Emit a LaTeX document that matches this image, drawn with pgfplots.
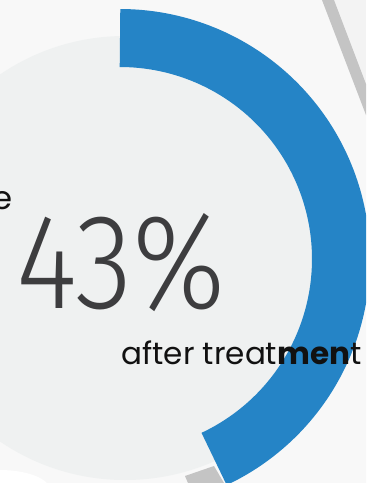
\documentclass[border=0pt]{standalone}
\usepackage{pgfplots}
\pgfplotsset{compat=1.18}
\usepackage{fontspec}
\setmainfont{Poppins}
\newfontfamily\numfont{Fira Sans Light}
\definecolor{arcblue}{RGB}{37,132,198}
\definecolor{bgout}{RGB}{243,243,243}
\definecolor{bgwhite}{RGB}{248,248,248}
\definecolor{bgcirc}{RGB}{239,241,241}
\definecolor{band}{RGB}{196,196,196}
\definecolor{numgray}{RGB}{61,61,63}
\definecolor{txt}{RGB}{17,17,17}
% share shown by the ring (percent)
\def\share{43}
\begin{document}
\begin{tikzpicture}
\begin{axis}[
  scale only axis, width=183pt, height=241.5pt,
  xmin=0, xmax=366, ymin=0, ymax=483, y dir=reverse,
  axis lines=none, ticks=none, clip=true,
]
% background
\fill[bgout] (axis cs:0,0) rectangle (axis cs:366,483);
\fill[bgwhite] (axis cs:0,0) -- (axis cs:322,0) -- (axis cs:366,115) -- (axis cs:366,483) -- (axis cs:0,483) -- cycle;
\fill[band] (axis cs:322,0) -- (axis cs:334,0) -- (axis cs:366,84) -- (axis cs:366,115) -- cycle;
\fill[band] (axis cs:185,476) -- (axis cs:214,466) -- (axis cs:224,483) -- (axis cs:188,483) -- cycle;
\fill[white] (axis cs:0,490) ellipse[x radius=25pt, y radius=10pt];
\fill[bgcirc] (axis cs:125,258) circle[radius=111pt];
% ring segment for the share
\pgfmathsetmacro\endang{\share*3.6}
\addplot[draw=arcblue, line width=29pt, line cap=butt, domain=0:\endang, samples=150, variable=\t]
  ({120+221*sin(\t)},{259-221*cos(\t)});
% texts
\node[anchor=base east, inner sep=0, text=txt] at (axis cs:13,209) {\resizebox{!}{9pt}{e}};
\node[anchor=base west, inner sep=0, text=numgray] at (axis cs:16,308) {\resizebox{104.5pt}{47.5pt}{\numfont 43\%}};
\node[anchor=base west, inner sep=0, text=txt] at (axis cs:121,364) {\resizebox{120pt}{!}{after treat\textbf{men}t}};
\end{axis}
\pgfresetboundingbox
\useasboundingbox (current axis.south west) rectangle (current axis.north east);
\end{tikzpicture}
\end{document}
